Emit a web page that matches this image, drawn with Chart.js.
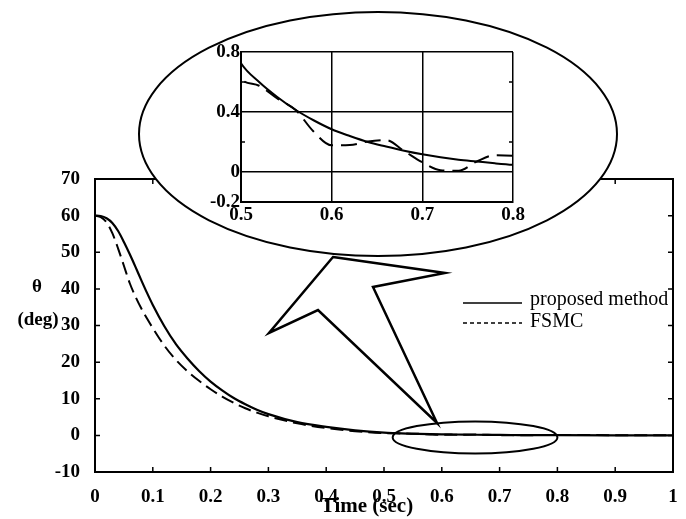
<!DOCTYPE html>
<html>
<head>
<meta charset="utf-8">
<script src="https://cdn.jsdelivr.net/npm/chart.js@4.4.1/dist/chart.umd.min.js"></script>
<style>
  html, body { margin: 0; padding: 0; background: #fff; }
  #quadro { position: relative; width: 686px; height: 519px; }
  #quadro canvas { position: absolute; left: 0; top: 0; }
</style>
</head>
<body>
<div id="quadro">
  <canvas id="grafico" width="686" height="519"></canvas>
  <canvas id="detalhe" width="686" height="519"></canvas>
</div>
<script>
// Tempo (s) e ângulo theta (graus)
const tempo = [0, 0.01, 0.02, 0.03, 0.04, 0.05, 0.06, 0.07, 0.08, 0.09, 0.10,
  0.12, 0.14, 0.16, 0.18, 0.20, 0.22, 0.24, 0.26, 0.28, 0.30, 0.35, 0.40, 0.45,
  0.50, 0.52, 0.54, 0.56, 0.58, 0.60, 0.62, 0.64, 0.66, 0.68, 0.70, 0.72, 0.74,
  0.76, 0.78, 0.80, 0.90, 1.0];

// proposed method (linha cheia)
const proposto = [60, 59.9, 59.3, 58, 55.8, 52.8, 49.5, 46, 42.4, 38.9, 35.6,
  29.8, 24.9, 21, 17.6, 14.7, 12.3, 10.2, 8.5, 7.0, 5.8, 3.6, 2.3, 1.35,
  0.725, 0.6, 0.5, 0.415, 0.345, 0.285, 0.24, 0.2, 0.17, 0.142, 0.118, 0.098, 0.082,
  0.07, 0.058, 0.048, 0.02, 0.01];

// FSMC (linha tracejada)
const fsmc = [60, 59.6, 58.2, 55.2, 51, 46.3, 41.6, 37.9, 34.7, 31.9, 29.3,
  24.5, 20.6, 17.5, 14.9, 12.6, 10.6, 8.9, 7.4, 6.2, 5.2, 3.3, 2.0, 1.15,
  0.62, 0.575, 0.49, 0.415, 0.27, 0.178, 0.18, 0.203, 0.212, 0.14, 0.065, 0.012, 0.008,
  0.07, 0.112, 0.108, 0.05, 0.02];

// Marcas dos eixos do gráfico principal
const xTicks = [0, 0.1, 0.2, 0.3, 0.4, 0.5, 0.6, 0.7, 0.8, 0.9, 1];
const xTickLabels = ['0', '0.1', '0.2', '0.3', '0.4', '0.5', '0.6', '0.7', '0.8', '0.9', '1'];
const yTicks = [-10, 0, 10, 20, 30, 40, 50, 60, 70];
const yTickLabels = ['-10', '0', '10', '20', '30', '40', '50', '60', '70'];

// Marcas do detalhe (zoom 0.5 - 0.8)
const detXTicks = [0.5, 0.6, 0.7, 0.8];
const detXLabels = ['0.5', '0.6', '0.7', '0.8'];
const detYTicks = [-0.2, 0, 0.4, 0.8];
const detYLabels = ['-0.2', '0', '0.4', '0.8'];
const detYMenores = [0.2, 0.6];

const fonte = "'Liberation Serif', 'Times New Roman', serif";

function pontos(valores) {
  return tempo.map((t, i) => ({ x: t, y: valores[i] }));
}

function fixaTicks(lista) {
  return scale => { scale.ticks = lista.map(v => ({ value: v })); };
}

// Desenha marcas internas nos quatro lados
function marcasInternas(chart, xs, ys, tam) {
  const ctx = chart.ctx, a = chart.chartArea;
  const sx = chart.scales.x, sy = chart.scales.y;
  ctx.save();
  ctx.strokeStyle = '#000';
  ctx.lineWidth = 1.5;
  ctx.beginPath();
  xs.forEach(v => {
    const px = sx.getPixelForValue(v);
    ctx.moveTo(px, a.bottom); ctx.lineTo(px, a.bottom - tam);
    ctx.moveTo(px, a.top); ctx.lineTo(px, a.top + tam);
  });
  ys.forEach(v => {
    const py = sy.getPixelForValue(v);
    ctx.moveTo(a.left, py); ctx.lineTo(a.left + tam, py);
    ctx.moveTo(a.right, py); ctx.lineTo(a.right - tam, py);
  });
  ctx.stroke();
  ctx.restore();
}

const extrasPrincipal = {
  id: 'extrasPrincipal',
  afterDraw(chart) {
    const ctx = chart.ctx, a = chart.chartArea;
    const sx = chart.scales.x, sy = chart.scales.y;

    // moldura (topo e direita)
    ctx.save();
    ctx.strokeStyle = '#000';
    ctx.lineWidth = 2;
    ctx.strokeRect(a.left, a.top, a.right - a.left, a.bottom - a.top);
    ctx.restore();

    marcasInternas(chart, xTicks.slice(1, -1), yTicks.slice(1, -1), 5);

    // títulos dos eixos
    ctx.save();
    ctx.fillStyle = '#000';
    ctx.textAlign = 'center';
    ctx.textBaseline = 'middle';
    ctx.font = 'bold 19px ' + fonte;
    ctx.fillText('θ', 37, 287);
    ctx.fillText('(deg)', 38, 320);
    ctx.font = 'bold 21px ' + fonte;
    ctx.fillText('Time (sec)', 367, 507);

    // legenda
    ctx.textAlign = 'left';
    ctx.font = '20px ' + fonte;
    ctx.fillText('proposed method', 530, 300);
    ctx.fillText('FSMC', 530, 322);
    ctx.lineWidth = 1.5;
    ctx.beginPath();
    ctx.moveTo(463, 303); ctx.lineTo(522, 303);
    ctx.stroke();
    ctx.setLineDash([4, 3]);
    ctx.beginPath();
    ctx.moveTo(463, 323); ctx.lineTo(522, 323);
    ctx.stroke();
    ctx.setLineDash([]);

    // elipse pequena em torno de 0.5 - 0.8
    const x1 = sx.getPixelForValue(0.515), x2 = sx.getPixelForValue(0.8);
    const y0 = sy.getPixelForValue(0) + 2;
    ctx.lineWidth = 2;
    ctx.beginPath();
    ctx.ellipse((x1 + x2) / 2, y0, (x2 - x1) / 2, 16, 0, 0, Math.PI * 2);
    ctx.stroke();

    // seta
    ctx.lineWidth = 2.5;
    ctx.lineJoin = 'miter';
    ctx.beginPath();
    ctx.moveTo(333, 257);
    ctx.lineTo(445, 273);
    ctx.lineTo(373, 287);
    ctx.lineTo(437, 423);
    ctx.lineTo(318, 310);
    ctx.lineTo(269, 333);
    ctx.closePath();
    ctx.fillStyle = '#fff';
    ctx.fill();
    ctx.stroke();

    // elipse grande do detalhe
    ctx.lineWidth = 2;
    ctx.beginPath();
    ctx.ellipse(378, 134, 239, 122, 0, 0, Math.PI * 2);
    ctx.fillStyle = '#fff';
    ctx.fill();
    ctx.stroke();
    ctx.restore();
  }
};

const extrasDetalhe = {
  id: 'extrasDetalhe',
  afterDraw(chart) {
    marcasInternas(chart, [], detYMenores, 4);
  }
};

function serie(dados, tracejado, larg) {
  return {
    data: pontos(dados),
    borderColor: '#000',
    borderWidth: larg,
    borderDash: tracejado,
    pointRadius: 0,
    fill: false,
    cubicInterpolationMode: 'monotone'
  };
}

const fonteTicks = { family: fonte, size: 19, weight: 'bold' };

// Gráfico principal
new Chart(document.getElementById('grafico').getContext('2d'), {
  type: 'line',
  data: {
    datasets: [
      serie(proposto, [], 2.2),
      serie(fsmc, [13, 6], 2)
    ]
  },
  options: {
    responsive: false,
    devicePixelRatio: 1,
    animation: false,
    events: [],
    layout: { padding: { left: 0, top: 179, right: 13, bottom: 0 } },
    plugins: { legend: { display: false }, tooltip: { enabled: false } },
    scales: {
      x: {
        type: 'linear', min: 0, max: 1,
        afterBuildTicks: fixaTicks(xTicks),
        afterFit: s => { s.height = 47; },
        grid: { display: false },
        border: { display: true, color: '#000', width: 2 },
        ticks: {
          color: '#000', padding: 6, maxRotation: 0, autoSkip: false,
          font: fonteTicks,
          callback: (v, i) => xTickLabels[i]
        }
      },
      y: {
        type: 'linear', min: -10, max: 70,
        afterBuildTicks: fixaTicks(yTicks),
        afterFit: s => { s.width = 95; },
        grid: { display: false },
        border: { display: true, color: '#000', width: 2 },
        ticks: {
          color: '#000', padding: 7, autoSkip: false,
          font: fonteTicks,
          callback: (v, i) => yTickLabels[i]
        }
      }
    }
  },
  plugins: [extrasPrincipal]
});

// Detalhe (zoom) sobreposto dentro da elipse
new Chart(document.getElementById('detalhe').getContext('2d'), {
  type: 'line',
  data: {
    datasets: [
      serie(proposto, [], 2),
      serie(fsmc, [16, 8], 2)
    ]
  },
  options: {
    responsive: false,
    devicePixelRatio: 1,
    animation: false,
    events: [],
    layout: { padding: { left: 0, top: 52, right: 173, bottom: 0 } },
    plugins: { legend: { display: false }, tooltip: { enabled: false } },
    scales: {
      x: {
        type: 'linear', min: 0.5, max: 0.8,
        afterBuildTicks: fixaTicks(detXTicks),
        afterFit: s => { s.height = 317; },
        grid: { color: '#000', lineWidth: 1.5, drawTicks: false },
        border: { display: true, color: '#000', width: 2 },
        ticks: {
          color: '#000', padding: 2, maxRotation: 0, autoSkip: false,
          font: fonteTicks,
          callback: (v, i) => detXLabels[i]
        }
      },
      y: {
        type: 'linear', min: -0.2, max: 0.8,
        afterBuildTicks: fixaTicks(detYTicks),
        afterFit: s => { s.width = 241; },
        grid: { color: '#000', lineWidth: 1.5, drawTicks: false },
        border: { display: true, color: '#000', width: 2 },
        ticks: {
          color: '#000', padding: 1, autoSkip: false,
          font: fonteTicks,
          callback: (v, i) => detYLabels[i]
        }
      }
    }
  },
  plugins: [extrasDetalhe]
});
</script>
</body>
</html>
